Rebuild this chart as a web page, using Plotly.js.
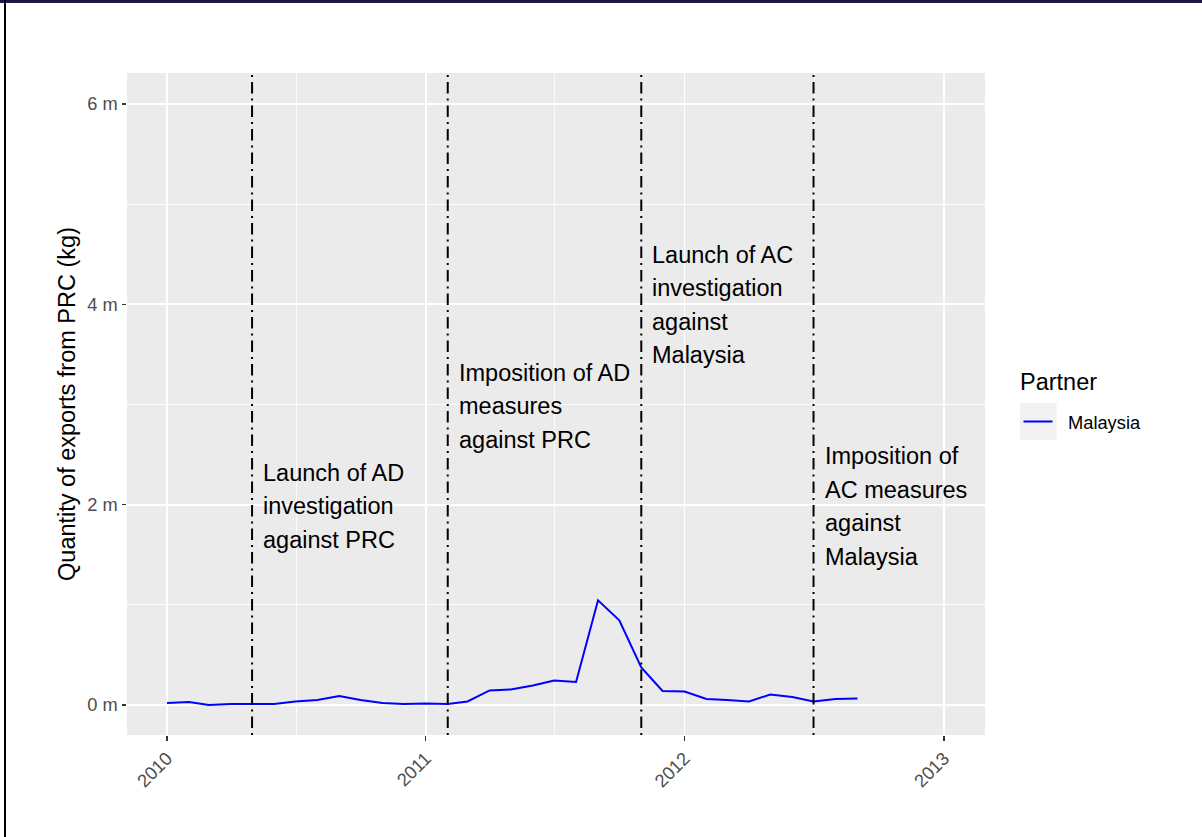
<!DOCTYPE html>
<html>
<head>
<meta charset="utf-8">
<script src="https://cdn.plot.ly/plotly-3.0.1.min.js"></script>
<style>
  html, body { margin: 0; padding: 0; background: #ffffff; }
  #wrap { position: relative; width: 1202px; height: 837px; overflow: hidden; }
  #chart { position: absolute; left: 0; top: 0; width: 1202px; height: 837px; }
  #topbar { position: absolute; left: 0; top: 0; width: 1202px; height: 3px; background: #1b1747; z-index: 5; }
  #leftbar { position: absolute; left: 4px; top: 0; width: 2px; height: 837px; background: #000000; z-index: 5; }
</style>
</head>
<body>
<div id="wrap">
  <div id="chart"></div>
  <div id="topbar"></div>
  <div id="leftbar"></div>
</div>
<script>
// ---------------- data ----------------
const months = [
  "2010-01-01","2010-02-01","2010-03-01","2010-04-01","2010-05-01","2010-06-01",
  "2010-07-01","2010-08-01","2010-09-01","2010-10-01","2010-11-01","2010-12-01",
  "2011-01-01","2011-02-01","2011-03-01","2011-04-01","2011-05-01","2011-06-01",
  "2011-07-01","2011-08-01","2011-09-01","2011-10-01","2011-11-01","2011-12-01",
  "2012-01-01","2012-02-01","2012-03-01","2012-04-01","2012-05-01","2012-06-01",
  "2012-07-01","2012-08-01","2012-09-01"
];
const malaysiaKg = [
  20000, 30000, 0, 10000, 10000, 10000, 35000, 50000, 90000, 50000, 20000, 10000,
  15000, 10000, 35000, 145000, 155000, 195000, 245000, 230000, 1045000, 845000, 375000, 140000,
  135000, 60000, 50000, 35000, 105000, 80000, 35000, 60000, 65000
];
const seriesName = "Malaysia";
const legendTitle = "Partner";

const eventDates = ["2010-05-01", "2011-02-01", "2011-11-01", "2012-07-01"];
const eventLabels = [
  ["Launch of AD", "investigation", "against PRC"],
  ["Imposition of AD", "measures", "against PRC"],
  ["Launch of AC", "investigation", "against", "Malaysia"],
  ["Imposition of", "AC measures", "against", "Malaysia"]
];

const yTickVals = [0, 2000000, 4000000, 6000000];
const yTickText = ["0 m", "2 m", "4 m", "6 m"];
const xTickVals = ["2010-01-01", "2011-01-01", "2012-01-01", "2013-01-01"];
const xTickText = ["2010", "2011", "2012", "2013"];
const yAxisTitle = "Quantity of exports from PRC (kg)";

// ---------------- layout helpers ----------------
const W = 1202, H = 837;
const PL = 127, PR = 985, PT = 73, PB = 735;
const px2paperX = px => (px - PL) / (PR - PL);
const py2paperY = py => (PB - py) / (PB - PT);

const FONT = "Liberation Sans, Arial, Helvetica, sans-serif";
const BIG = 23.5, SMALL = 18.3;

// first text line centre (px) for each label block, line spacing 33.5px
const labelTopCentre = [472.5, 372.5, 254.5, 456];
const lineStep = 33.5;

const annotations = [];
eventLabels.forEach((lines, i) => {
  lines.forEach((txt, j) => {
    annotations.push({
      x: eventDates[i], xref: "x",
      y: py2paperY(labelTopCentre[i] + j * lineStep), yref: "paper",
      text: txt, showarrow: false,
      xanchor: "left", yanchor: "middle", xshift: 9,
      font: { family: FONT, size: BIG, color: "#000000" }
    });
  });
});

// manual legend
annotations.push({
  x: px2paperX(1018), xref: "paper", y: py2paperY(382), yref: "paper",
  text: legendTitle, showarrow: false, xanchor: "left", yanchor: "middle",
  font: { family: FONT, size: BIG, color: "#000000" }
});
annotations.push({
  x: px2paperX(1066), xref: "paper", y: py2paperY(422), yref: "paper",
  text: seriesName, showarrow: false, xanchor: "left", yanchor: "middle",
  font: { family: FONT, size: SMALL, color: "#000000" }
});

const shapes = eventDates.map(d => ({
  type: "line", xref: "x", yref: "paper",
  x0: d, x1: d, y0: 0, y1: 1,
  line: { color: "#000000", width: 2, dash: "2px,5px,11.5px,5px" }
}));
shapes.push({
  type: "rect", xref: "paper", yref: "paper",
  x0: px2paperX(1020), x1: px2paperX(1056.5),
  y0: py2paperY(440), y1: py2paperY(403),
  fillcolor: "#f2f2f2", line: { width: 0 }, layer: "below"
});
shapes.push({
  type: "line", xref: "paper", yref: "paper",
  x0: px2paperX(1023.5), x1: px2paperX(1052.5),
  y0: py2paperY(421.5), y1: py2paperY(421.5),
  line: { color: "#0000ff", width: 2 }
});

const trace = {
  x: months, y: malaysiaKg, type: "scatter", mode: "lines",
  name: seriesName,
  line: { color: "#0000ff", width: 2 },
  showlegend: false, hoverinfo: "x+y"
};

const layout = {
  width: W, height: H,
  margin: { l: PL, r: W - PR, t: PT, b: H - PB, pad: 0 },
  paper_bgcolor: "#ffffff",
  plot_bgcolor: "#ebebeb",
  font: { family: FONT, color: "#000000" },
  showlegend: false,
  xaxis: {
    type: "date",
    range: ["2009-11-05 14:00", "2013-02-27 20:00"],
    tickmode: "array", tickvals: xTickVals, ticktext: xTickText,
    tickangle: -45,
    tickfont: { family: FONT, size: SMALL, color: "#4d4d4d" },
    ticks: "outside", ticklen: 4.5, tickwidth: 1.1, tickcolor: "#333333",
    showgrid: true, gridcolor: "#ffffff", gridwidth: 1.8,
    minor: { tickvals: ["2010-07-02", "2011-07-02", "2012-07-02"], showgrid: true, gridcolor: "#ffffff", gridwidth: 0.9, ticks: "" },
    zeroline: false, showline: false, fixedrange: true
  },
  yaxis: {
    range: [-299500, 6309500],
    tickmode: "array", tickvals: yTickVals, ticktext: yTickText,
    tickfont: { family: FONT, size: SMALL, color: "#4d4d4d" },
    ticks: "outside", ticklen: 4.5, tickwidth: 1.1, tickcolor: "#333333",
    showgrid: true, gridcolor: "#ffffff", gridwidth: 1.8,
    minor: { tickvals: [1000000, 3000000, 5000000], showgrid: true, gridcolor: "#ffffff", gridwidth: 0.9, ticks: "" },
    zeroline: false, showline: false, fixedrange: true,
    title: { text: yAxisTitle, font: { family: FONT, size: BIG, color: "#000000" }, standoff: 5 }
  },
  annotations: annotations,
  shapes: shapes
};

Plotly.newPlot("chart", [trace], layout, { displayModeBar: false, staticPlot: true });
</script>
</body>
</html>
